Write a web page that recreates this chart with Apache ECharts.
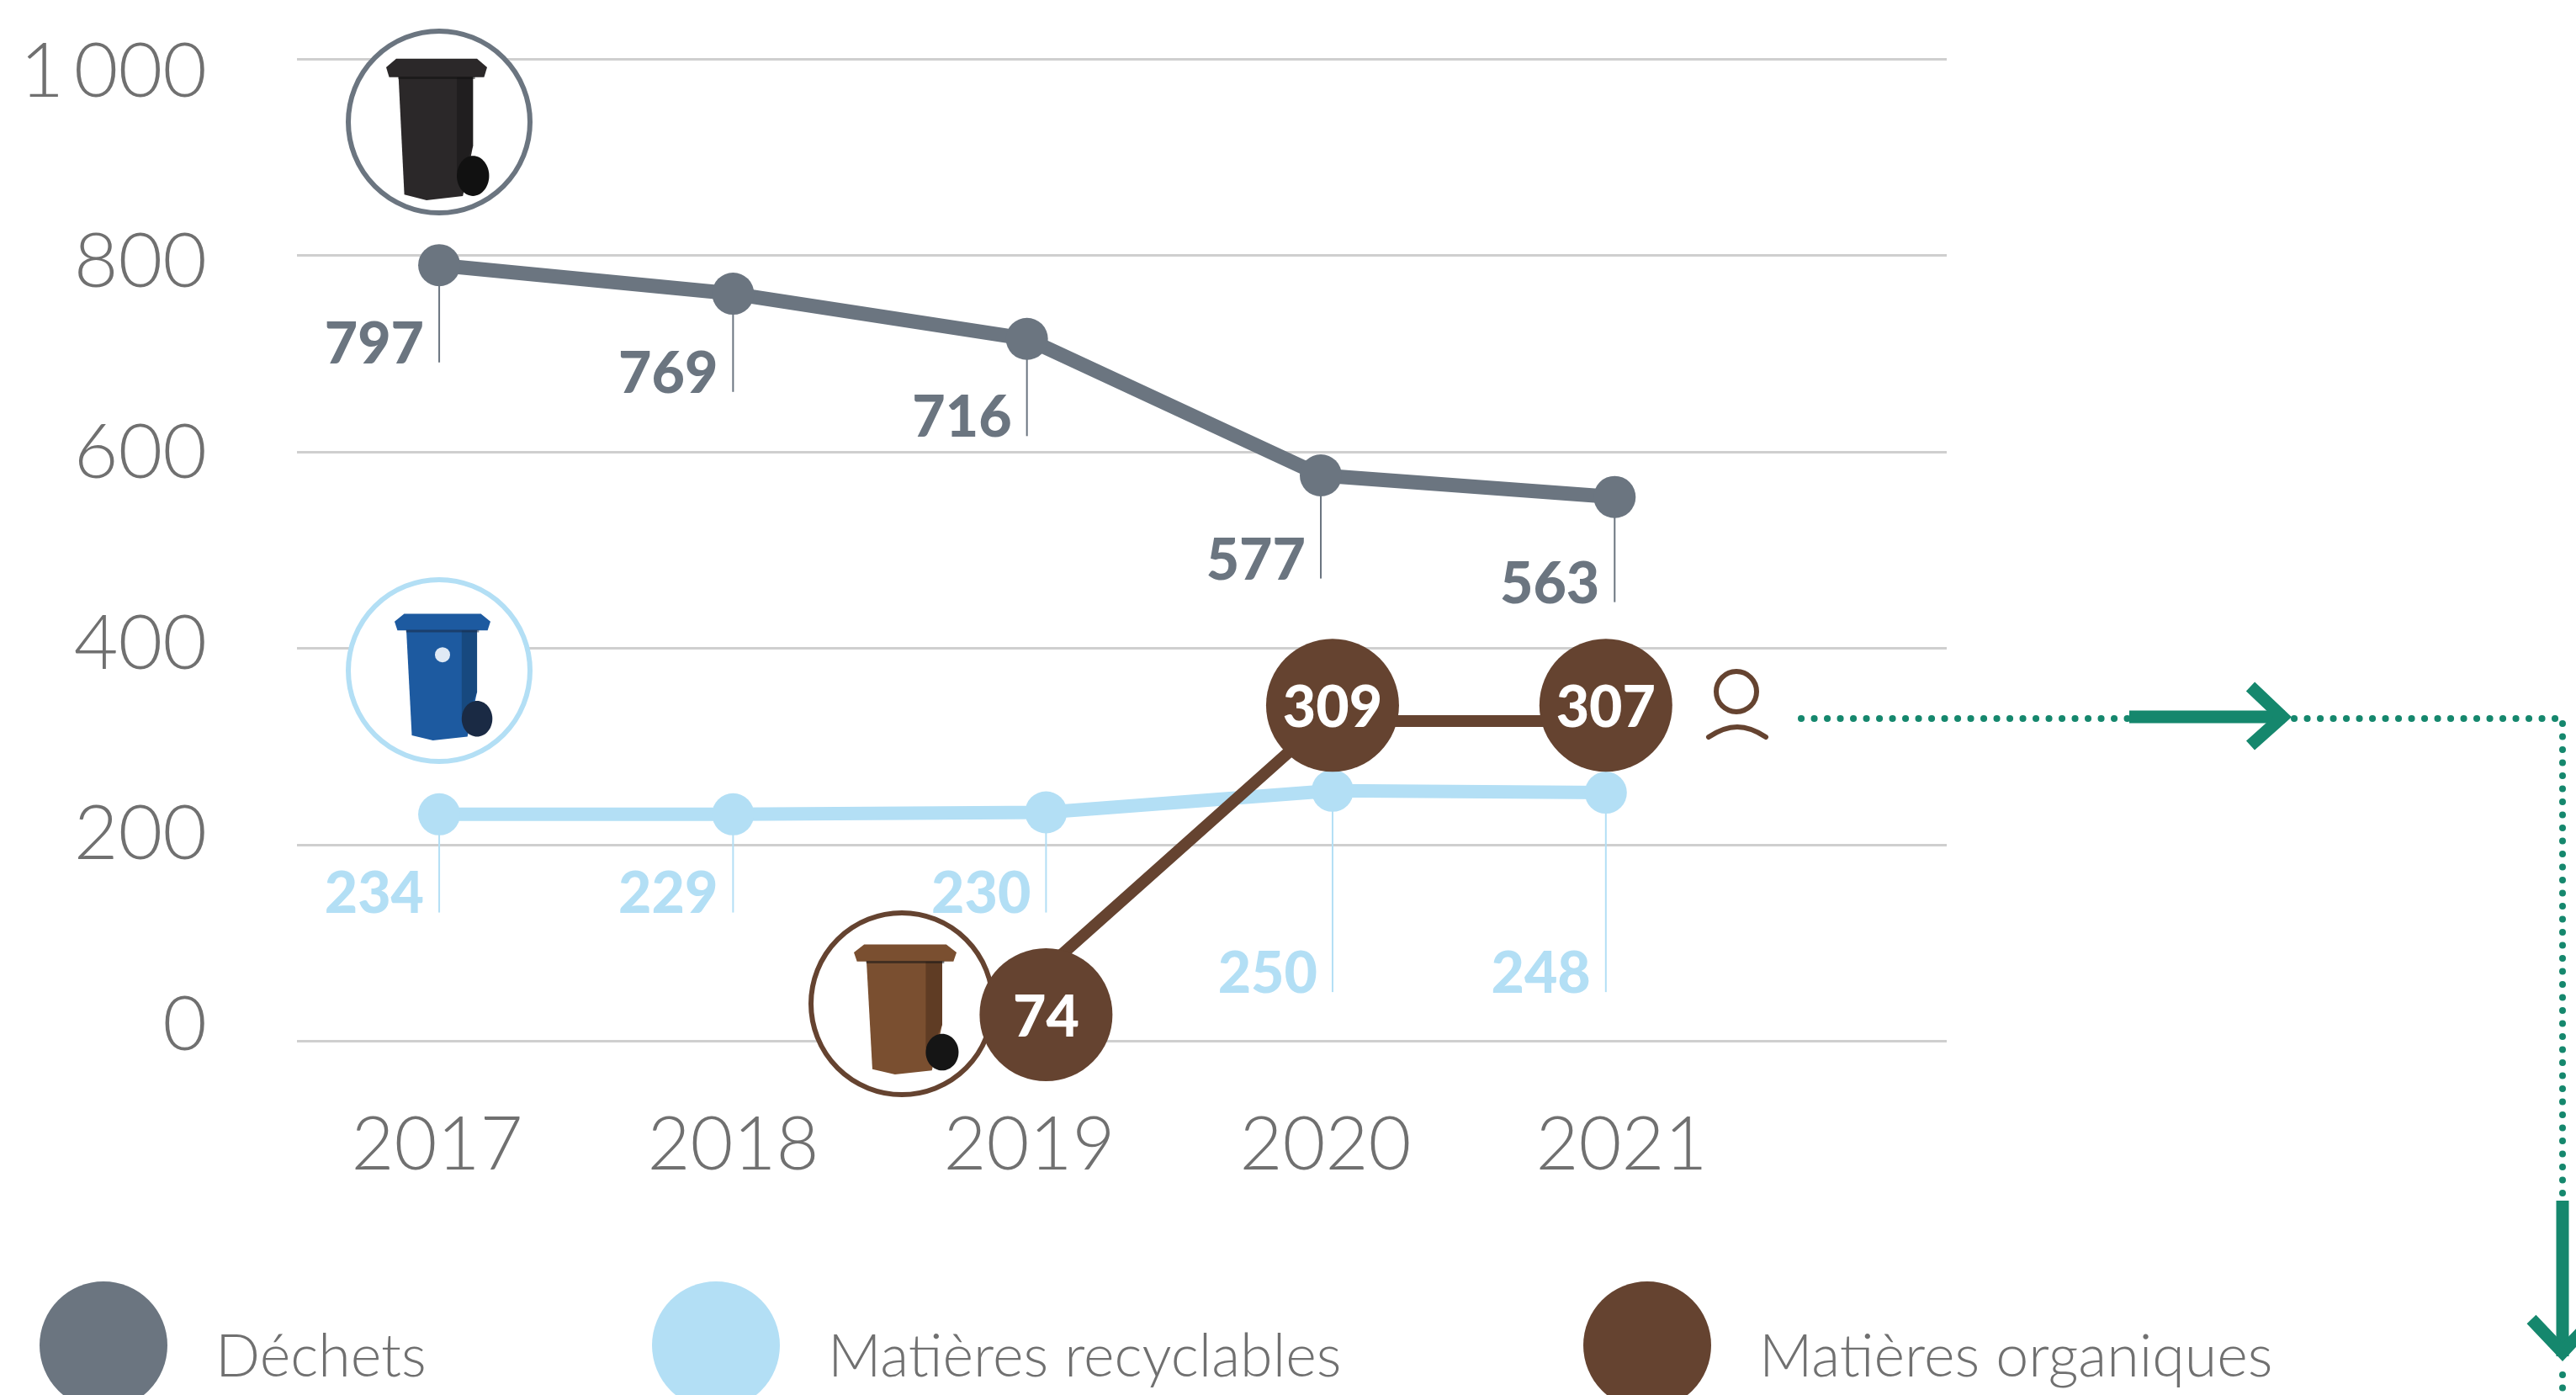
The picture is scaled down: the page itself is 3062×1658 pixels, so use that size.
<!DOCTYPE html>
<html><head><meta charset="utf-8">
<style>html,body{margin:0;padding:0;background:#fff}#c{width:3062px;height:1658px}</style>
<script src="https://cdn.jsdelivr.net/npm/echarts@6/dist/echarts.min.js"></script>
</head><body><div id="c"></div>
<script>
// Data
const years = [2017, 2018, 2019, 2020, 2021];
const yTicks = [0, 200, 400, 600, 800, 1000];
const wasteNames = 'Déchets', recycleName = 'Matières recyclables', organicName = 'Matières organiques';
// printed values
const wasteLabels = [797, 769, 716, 577, 563];
const recycleLabels = [234, 229, 230, 250, 248];
const organicLabels = [74, 309, 307];
// positions of the marks on the chart's scale (as drawn, slightly apart from the printed values)
const wasteX = [2017, 2018, 2019, 2020, 2021];
const wastePlot = [790, 761, 715, 576, 554];
const wasteLeaderEnd = [691, 661, 616, 471, 447];
const recycleX = [2017, 2018, 2019.065, 2020.04, 2020.97];
const recyclePlot = [231, 231, 233, 255, 253];
const recycleLeaderEnd = [131, 131, 131, 50, 50];
const organicX = [2019.065, 2020.04, 2020.97];
const organicBubblePlot = [27, 342, 342];
const organicLineX = [2019.065, 2020.04, 2020.04, 2020.97];
const organicLinePlot = [74, 334, 326, 326];

const GREY = '#6b7580', BLUE = '#b3dff5', BROWN = '#654330', GREEN = '#15876d', TICK = '#707070';
const FONT = 'Lato';

function zipSeries(x, y, a, b) { return x.map((v, i) => [v, y[i], a[i], b ? b[i] : null]); }

function leaderSeries(name, color, data) {
  return {
    name, type: 'custom', z: 4, silent: true, clip: false, data,
    encode: { x: 0, y: 1 },
    renderItem(params, api) {
      const top = api.coord([api.value(0), api.value(1)]);
      const end = api.coord([api.value(0), api.value(3)]);
      return { type: 'group', children: [
        { type: 'line', shape: { x1: top[0], y1: top[1], x2: end[0], y2: end[1] },
          style: { stroke: color, lineWidth: 2 } },
        { type: 'text', style: { text: String(api.value(2)), x: end[0] - 18, y: end[1] + 13,
          align: 'right', verticalAlign: 'bottom', fill: color,
          fontFamily: FONT, fontWeight: 900, fontSize: 68 } }
      ] };
    }
  };
}

function bin(l, t, w, h, col, dark, shade, extra) {
  const px = v => l + v * w, py = v => t + v * h, z = 3;
  const els = [
    { type: 'polygon', z, shape: { points: [[px(0.12), py(0.1)], [px(0.86), py(0.1)], [px(0.86), py(0.62)], [px(0.76), py(0.97)], [px(0.40), py(1)], [px(0.18), py(0.96)]] }, style: { fill: col } },
    { type: 'polygon', z, shape: { points: [[px(0.70), py(0.14)], [px(0.86), py(0.14)], [px(0.86), py(0.62)], [px(0.76), py(0.80)], [px(0.70), py(0.80)]] }, style: { fill: shade } },
    { type: 'polygon', z, shape: { points: [[px(0.0), py(0.07)], [px(0.10), py(0.01)], [px(0.90), py(0.01)], [px(1), py(0.07)], [px(0.97), py(0.14)], [px(0.03), py(0.14)]] }, style: { fill: col } },
    { type: 'rect', z, shape: { x: px(0.12), y: py(0.135), width: w * 0.76, height: 3 }, style: { fill: dark, opacity: 0.55 } },
    { type: 'ellipse', z, shape: { cx: px(0.86), cy: py(0.83), rx: w * 0.16, ry: h * 0.14 }, style: { fill: dark } }
  ];
  return els.concat(extra ? extra(px, py, z) : []);
}
const ring = (cx, cy, stroke, lw) => ({ type: 'circle', z: 3, shape: { cx, cy, r: 108 }, style: { fill: '#fff', stroke, lineWidth: lw } });
const dotted = (x1, y1, x2, y2) => ({ type: 'line', z: 3, shape: { x1, y1, x2, y2 }, style: { stroke: GREEN, lineWidth: 8, lineCap: 'round', lineDash: [0.1, 15.4] } });
const solid = (pts, lw) => ({ type: 'polyline', z: 3, shape: { points: pts }, style: { stroke: GREEN, lineWidth: lw, fill: null, lineJoin: 'miter' } });

const graphics = [
  ring(522, 145, GREY, 6),
  ...bin(459, 68, 120, 170, '#2b2829', '#111', '#201e1f'),
  ring(522, 797, BLUE, 6),
  ...bin(469, 728, 114, 152, '#1d5aa0', '#1a2a44', '#17497f', (px, py, z) => [
    { type: 'circle', z, shape: { cx: px(0.5), cy: py(0.33), r: 9 }, style: { fill: '#dfe9f5' } }]),
  ring(1072, 1193, BROWN, 6),
  ...bin(1015, 1121, 122, 156, '#7a4f30', '#151515', '#5f3c24'),
  // person icon
  { type: 'circle', z: 3, shape: { cx: 2064, cy: 822, r: 24 }, style: { fill: 'none', stroke: BROWN, lineWidth: 6 } },
  { type: 'bezierCurve', z: 3, shape: { x1: 2031, y1: 876, cpx1: 2055, cpy1: 860, cpx2: 2075, cpy2: 860, x2: 2099, y2: 876 }, style: { fill: 'none', stroke: BROWN, lineWidth: 6, lineCap: 'round' } },
  // route to the right
  dotted(2141, 854, 2530, 854),
  solid([[2531, 852], [2716, 852]], 15),
  solid([[2675, 816], [2713, 852], [2675, 886]], 15),
  dotted(2727, 854, 3046, 854),
  dotted(3046, 860, 3046, 1425),
  solid([[3046, 1427], [3046, 1612]], 15),
  solid([[3009, 1568], [3046, 1607], [3083, 1568]], 15),
  dotted(3046, 1634, 3046, 1658)
];

const legendBase = (name, left) => ({
  data: [{ name, icon: 'circle' }], left, top: 1523, padding: 0, orient: 'horizontal',
  itemWidth: 152, itemHeight: 152, selectedMode: false,
  formatter: n => '{s| }\n{a|' + n + '}',
  textStyle: { fontFamily: FONT, fontWeight: 300, fontSize: 70, color: TICK, padding: [0, 0, 0, 52],
    rich: { s: { fontSize: 10, lineHeight: 28, height: 28 },
            a: { fontFamily: FONT, fontWeight: 300, fontSize: 70, color: TICK, lineHeight: 84 } } }
});

const chart = echarts.init(document.getElementById('c'), null, { renderer: 'canvas' });
chart.setOption({
  animation: false,
  backgroundColor: '#fff',
  textStyle: { fontFamily: FONT },
  grid: { left: 353, top: 70, right: 748, height: 1167.5, containLabel: false, outerBoundsMode: 'none' },
  legend: [legendBase(wasteNames, 47), legendBase(recycleName, 775), legendBase(organicName, 1882)],
  xAxis: [
    { type: 'value', min: 2016.516, max: 2022.13, show: false },
    { type: 'value', min: 2016.527, max: 2022.098, position: 'bottom',
      axisLine: { show: false }, axisTick: { show: false }, splitLine: { show: false },
      axisLabel: { customValues: years, formatter: v => String(v), margin: 80,
        fontFamily: FONT, fontWeight: 300, fontSize: 88, color: TICK } }
  ],
  yAxis: [
    { type: 'value', min: 0, max: 1000, position: 'left',
      splitNumber: 5, axisLine: { show: false }, axisTick: { show: false }, axisLabel: { show: false },
      splitLine: { show: true, lineStyle: { color: '#cfcfcf', width: 3 } } },
    { type: 'value', min: -16.6, max: 1013.4, position: 'left',
      axisLine: { show: false }, axisTick: { show: false }, splitLine: { show: false },
      axisLabel: { customValues: yTicks, margin: 107, align: 'right',
        formatter: v => v === 1000 ? '1\u2009000' : String(v),
        fontFamily: FONT, fontWeight: 300, fontSize: 91, color: TICK } }
  ],
  graphic: { elements: graphics },
  series: [
    { name: recycleName, type: 'line', z: 5, clip: false, silent: true,
      data: recycleX.map((x, i) => [x, recyclePlot[i]]),
      symbol: 'circle', symbolSize: 50, showSymbol: true,
      lineStyle: { color: BLUE, width: 16 }, itemStyle: { color: BLUE } },
    leaderSeries('recycleLabels', BLUE, zipSeries(recycleX, recyclePlot, recycleLabels, recycleLeaderEnd)),
    { name: wasteNames, type: 'line', z: 5, clip: false, silent: true,
      data: wasteX.map((x, i) => [x, wastePlot[i]]),
      symbol: 'circle', symbolSize: 50, showSymbol: true,
      lineStyle: { color: GREY, width: 17 }, itemStyle: { color: GREY } },
    leaderSeries('wasteLabels', GREY, zipSeries(wasteX, wastePlot, wasteLabels, wasteLeaderEnd)),
    { name: organicName, type: 'line', z: 6, clip: false, silent: true,
      data: organicLineX.map((x, i) => [x, organicLinePlot[i]]),
      symbol: 'none', lineStyle: { color: BROWN, width: 14 }, itemStyle: { color: BROWN } },
    { name: organicName, type: 'scatter', z: 7, clip: false, silent: true,
      data: organicX.map((x, i) => [x, organicBubblePlot[i], organicLabels[i]]),
      symbol: 'circle', symbolSize: 158, itemStyle: { color: BROWN, opacity: 1 },
      label: { show: true, position: 'inside', offset: [0, 4], formatter: p => String(p.value[2]),
        color: '#fff', fontFamily: FONT, fontWeight: 900, fontSize: 68 } }
  ]
});
</script></body></html>
